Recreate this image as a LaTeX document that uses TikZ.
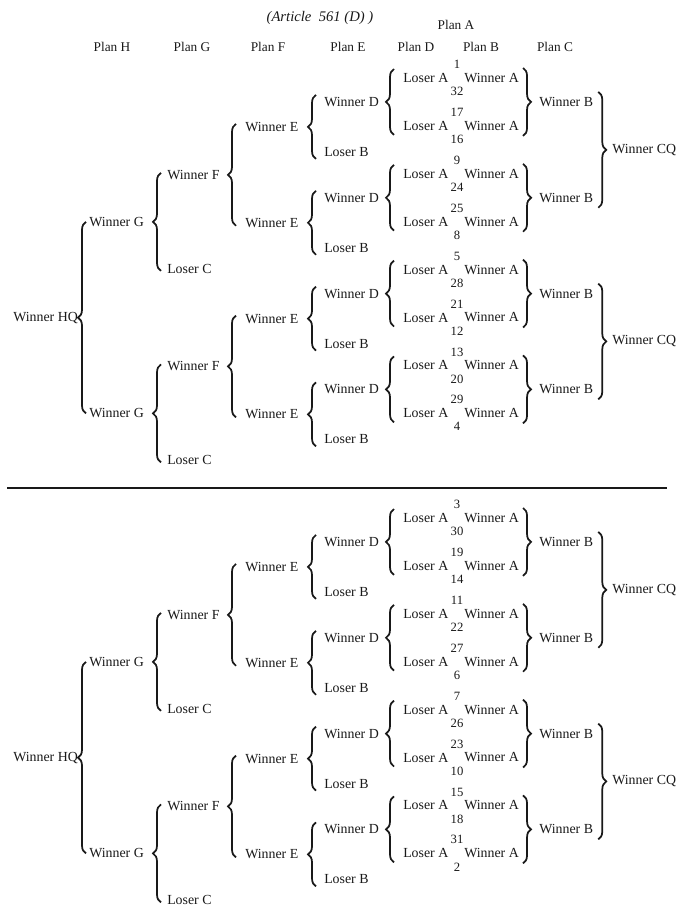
\documentclass[tikz,border=0pt]{standalone}
\usepackage{fontspec}
\setmainfont{Liberation Serif}
\usetikzlibrary{decorations.pathreplacing}

\tikzset{
  entry/.style={anchor=west, inner sep=0pt, font=\fontsize{10.4}{12}\selectfont},
  seed/.style={inner sep=0pt, font=\fontsize{9.5}{11}\selectfont},
  planhead/.style={inner sep=0pt, font=\fontsize{10}{12}\selectfont},
  curly/.style={decorate, decoration={brace, amplitude=6pt}, line width=1.3pt},
}

\begin{document}
\begin{tikzpicture}[x=0.75pt, y=-0.75pt, color=black!90]
  \useasboundingbox (0,0) rectangle (684,914);
  % Positions x des colonnes
  \def\xHQ{13} \def\xG{89} \def\xF{167} \def\xE{245} \def\xD{324}
  \def\xL{403} \def\xN{457} \def\xW{464} \def\xB{539} \def\xC{612}
  % Titre et en-tetes
  \node[planhead, font=\fontsize{11}{13}\selectfont\itshape] (art) at (320,18) {(Article~~561 (D)~)};
  \node[planhead] (pa) at (456,25) {Plan A};
  \foreach \n/\x in {H/112, G/192, F/268, E/348, D/416, B/481, C/555}
    \node[planhead] (p\n) at (\x,47) {Plan \n};
  % Trait de separation
  \coordinate (rl) at (7,488);
  \coordinate (rr) at (667,488);
  \draw[line width=1.2pt] (rl) -- (rr);
  % Plan A : lignes Loser A / Winner A
  \foreach \k/\up/\dn in {1/1/32, 2/17/16, 3/9/24, 4/25/8, 5/5/28, 6/21/12, 7/13/20, 8/29/4,
      9/3/30, 10/19/14, 11/11/22, 12/27/6, 13/7/26, 14/23/10, 15/15/18, 16/31/2} {
    \pgfmathsetmacro\yy{78+47.9*mod(\k-1,8)+440*int((\k-1)/8)}
    \node[entry] (ls\k) at (\xL,\yy) {Loser A};
    \node[entry] (wa\k) at (\xW,\yy) {Winner A};
    \node[seed] (su\k) at (\xN,\yy-13.5) {\up};
    \node[seed] (sd\k) at (\xN,\yy+13.5) {\dn};
  }
  % Plans D, B et E
  \foreach \j in {1,...,8} {
    \pgfmathtruncatemacro\ja{2*\j-1}
    \pgfmathtruncatemacro\jb{2*\j}
    \pgfmathsetmacro\yy{101.95+95.8*mod(\j-1,4)+440*int((\j-1)/4)}
    \node[entry] (wd\j) at (\xD,\yy) {Winner D};
    \node[entry] (lb\j) at (\xD,\yy+50) {Loser B};
    \node[entry] (we\j) at (\xE,\yy+25) {Winner E};
    \node[entry] (wb\j) at (\xB,\yy) {Winner B};
    \draw[curly] ([shift={(-9,9)}]ls\jb.west) -- ([shift={(-9,-9)}]ls\ja.west);
    \draw[curly] ([shift={(4,-10)}]wa\ja.east) -- ([shift={(4,10)}]wa\jb.east);
    \draw[curly] ([shift={(-8,7)}]lb\j.west) -- ([shift={(-8,-7)}]wd\j.west);
  }
  % Plans F, G et C
  \foreach \m in {1,...,4} {
    \pgfmathtruncatemacro\ja{2*\m-1}
    \pgfmathtruncatemacro\jb{2*\m}
    \pgfmathsetmacro\yy{174.85+191.6*mod(\m-1,2)+440*int((\m-1)/2)}
    \node[entry] (wf\m) at (\xF,\yy) {Winner F};
    \node[entry] (lc\m) at (\xF,\yy+94) {Loser C};
    \node[entry] (wg\m) at (\xG,\yy+47) {Winner G};
    \node[entry] (cq\m) at (\xC,\yy-25) {Winner CQ};
    \draw[curly] ([shift={(-9,3)}]we\jb.west) -- ([shift={(-9,-3)}]we\ja.west);
    \draw[curly] ([shift={(-6,2)}]lc\m.west) -- ([shift={(-6,-2)}]wf\m.west);
    \draw[curly] ([shift={(5,-10)}]wb\ja.east) -- ([shift={(5,10)}]wb\jb.east);
  }
  % Plan H
  \foreach \h in {1,2} {
    \pgfmathtruncatemacro\ma{2*\h-1}
    \pgfmathtruncatemacro\mb{2*\h}
    \pgfmathsetmacro\yy{317.65+440*(\h-1)}
    \node[entry] (hq\h) at (\xHQ,\yy) {Winner HQ};
    \draw[curly] ([shift={(-3,0)}]wg\mb.west) -- ([shift={(-3,0)}]wg\ma.west);
  }
\end{tikzpicture}
\end{document}
